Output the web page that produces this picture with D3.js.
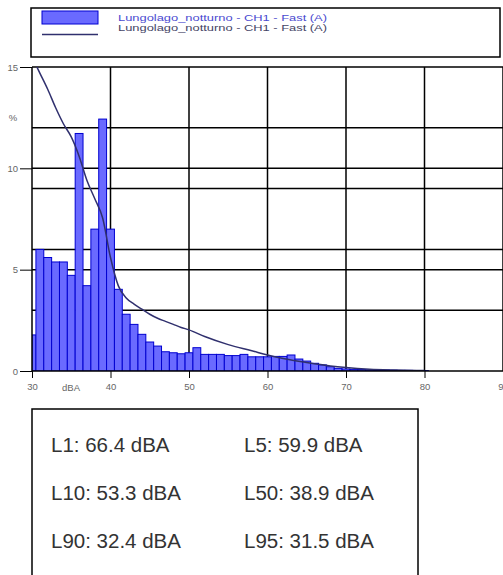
<!DOCTYPE html>
<html>
<head>
<meta charset="utf-8">
<script src="https://cdn.jsdelivr.net/npm/d3@7"></script>
<style>
  html, body { margin: 0; padding: 0; background: #fff; }
  svg { display: block; font-family: "Liberation Sans", Arial, sans-serif; }
</style>
</head>
<body>
<svg id="chart" width="503" height="575"></svg>
<script>
// ---- data ----
const binCenters = [30,31,32,33,34,35,36,37,38,39,40,41,42,43,44,45,46,47,48,49,50,51,52,53,54,55,56,57,58,59,60,61,62,63,64,65,66,67,68,69,70,71,72,73,74,75,76,77,78,79,80];
const binPercent = [1.78,6.0,5.6,5.38,5.38,4.72,11.72,4.21,7.0,12.43,7.0,4.03,2.80,2.30,1.81,1.43,1.23,0.95,0.90,0.85,0.90,1.15,0.82,0.82,0.82,0.76,0.76,0.82,0.70,0.70,0.70,0.72,0.72,0.79,0.59,0.49,0.38,0.30,0.21,0.13,0.10,0.08,0.07,0.06,0.05,0.05,0.04,0.03,0.03,0.02,0.02];
const curveLevel = [30,31,32,33,34,35,36,37,38,39,40,41,42,43,44,45,46,47,48,49,50,52,55,58,60,62,65,68,70,73,76,80];
const curveValue = [15.5,14.7,13.9,13.0,12.2,11.55,10.6,9.4,8.5,7.55,5.6,4.2,3.6,3.3,3.05,2.8,2.6,2.45,2.3,2.15,2.03,1.7,1.3,1.0,0.79,0.62,0.42,0.25,0.17,0.09,0.05,0.02];
const xTicks = [30,40,50,60,70,80,90];
const yTicks = [0,5,10,15];
const yGrid = [3,5,6,9,10,12,15];
const legendLabels = ["Lungolago_notturno - CH1 - Fast (A)", "Lungolago_notturno - CH1 - Fast (A)"];
const statLabels = [["L1: 66.4 dBA","L5: 59.9 dBA"],["L10: 53.3 dBA","L50: 38.9 dBA"],["L90: 32.4 dBA","L95: 31.5 dBA"]];

// ---- layout ----
const svg = d3.select("#chart");
const x = d3.scaleLinear().domain([30, 90]).range([32, 503]);
const y = d3.scaleLinear().domain([0, 15]).range([371, 67]);

svg.append("defs").append("clipPath").attr("id","plotclip")
  .append("rect").attr("x", x(30)).attr("y", y(15)).attr("width", 503 - x(30)).attr("height", y(0) - y(15));

// grid
const grid = svg.append("g");
grid.selectAll("line.h").data(yGrid).join("line")
  .attr("x1", x(30)).attr("x2", 503).attr("y1", d => y(d)).attr("y2", d => y(d))
  .attr("stroke", "#000").attr("stroke-width", 1.5);
grid.selectAll("line.v").data(xTicks.slice(1)).join("line")
  .attr("x1", d => x(d)).attr("x2", d => x(d)).attr("y1", y(15)).attr("y2", y(0))
  .attr("stroke", "#000").attr("stroke-width", 1.5);

// bars
const plot = svg.append("g").attr("clip-path", "url(#plotclip)");
plot.selectAll("rect.bar").data(binCenters).join("rect")
  .attr("x", d => x(Math.max(30, d - 0.5)))
  .attr("width", d => x(d + 0.5) - x(Math.max(30, d - 0.5)))
  .attr("y", (d, i) => y(binPercent[i]))
  .attr("height", (d, i) => y(0) - y(binPercent[i]))
  .attr("fill", "#6a6aff").attr("stroke", "#0000d0").attr("stroke-width", 1);

// curve
const line = d3.line().x(d => x(d[0])).y(d => y(d[1])).curve(d3.curveMonotoneX);
plot.append("path").datum(curveLevel.map((l, i) => [l, curveValue[i]]))
  .attr("d", line).attr("fill", "none").attr("stroke", "#30306e").attr("stroke-width", 1.5);

// axes lines
svg.append("line").attr("x1", x(30)).attr("x2", x(30)).attr("y1", y(15)).attr("y2", y(0)).attr("stroke", "#000").attr("stroke-width", 1.5);
svg.append("line").attr("x1", x(30)).attr("x2", 503).attr("y1", y(0)).attr("y2", y(0)).attr("stroke", "#000").attr("stroke-width", 1.5);

// y axis
const yAxis = d3.axisLeft(y).tickValues(yTicks).tickSize(12).tickPadding(2).tickFormat(d3.format("d"));
const ya = svg.append("g").attr("transform", `translate(${x(30)},0)`).call(yAxis);
ya.select(".domain").remove();
ya.selectAll(".tick line").attr("stroke", "#000").attr("stroke-width", 1);
ya.selectAll(".tick text").attr("font-size", 9.5).attr("fill", "#666").attr("font-family", "Liberation Sans, Arial, sans-serif");
svg.append("text").attr("x", 13).attr("y", 121).attr("text-anchor", "middle").attr("font-size", 9.5).attr("fill", "#666").text("%");

// x axis
const xAxis = d3.axisBottom(x).tickValues(xTicks).tickSize(7).tickPadding(5).tickFormat(d3.format("d"));
const xa = svg.append("g").attr("transform", `translate(0,${y(0)})`).call(xAxis);
xa.select(".domain").remove();
xa.selectAll(".tick line").attr("stroke", "#000").attr("stroke-width", 1);
xa.selectAll(".tick text").attr("font-size", 9.5).attr("fill", "#666").attr("font-family", "Liberation Sans, Arial, sans-serif");
svg.append("text").attr("x", 71).attr("y", 391).attr("text-anchor", "middle").attr("font-size", 9.5).attr("fill", "#666").text("dBA");

// legend
svg.append("rect").attr("x", 31).attr("y", 8).attr("width", 469).attr("height", 49)
  .attr("fill", "#fff").attr("stroke", "#000").attr("stroke-width", 1.5);
svg.append("rect").attr("x", 42).attr("y", 11).attr("width", 56).attr("height", 13)
  .attr("fill", "#6a6aff").attr("stroke", "#0000d0").attr("stroke-width", 1);
svg.append("line").attr("x1", 42).attr("x2", 98).attr("y1", 34.5).attr("y2", 34.5)
  .attr("stroke", "#30306e").attr("stroke-width", 1.5);
svg.selectAll("text.leg").data(legendLabels).join("text")
  .attr("x", 118).attr("y", (d, i) => 20.5 + i * 10.5)
  .attr("font-size", 9.5).attr("textLength", 209).attr("lengthAdjust", "spacingAndGlyphs")
  .attr("fill", (d, i) => i === 0 ? "#4a4ad0" : "#444466").text(d => d);

// stats box
svg.append("rect").attr("x", 32).attr("y", 409).attr("width", 386).attr("height", 200)
  .attr("fill", "#fff").attr("stroke", "#000").attr("stroke-width", 1.5);
statLabels.forEach((row, r) => {
  row.forEach((t, c) => {
    svg.append("text").attr("x", c === 0 ? 51 : 244).attr("y", 452.3 + r * 47.7)
      .attr("font-size", 20.5).attr("fill", "#333").text(t);
  });
});
</script>
</body>
</html>
